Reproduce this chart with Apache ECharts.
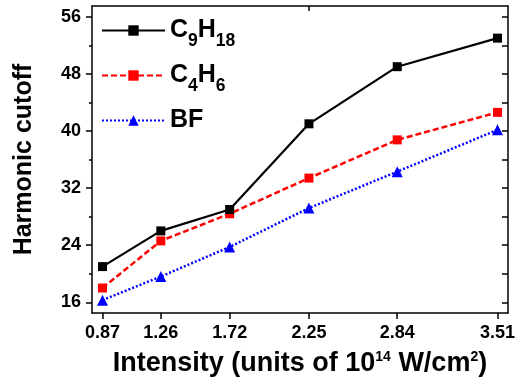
<!DOCTYPE html>
<html><head><meta charset="utf-8">
<script src="https://cdn.jsdelivr.net/npm/echarts@6/dist/echarts.min.js"></script>
<style>html,body{margin:0;padding:0;background:#fff}#c{width:518px;height:383px}</style>
</head><body><div id="c"></div>
<script>
const intensity = [0.87, 1.26, 1.72, 2.25, 2.84, 3.51];
const c9h18 = [21, 26, 29, 41, 49, 53];
const c4h6 = [18, 24.6, 28.4, 33.4, 38.75, 42.6];
const bf = [16.3, 19.6, 23.75, 29.2, 34.3, 40.15];
const yTicks = [16, 24, 32, 40, 48, 56];
const yMinorTicks = [20, 28, 36, 44, 52];
const yAllTicks = [16, 20, 24, 28, 32, 36, 40, 44, 48, 52, 56];
const topTicks = [2.25];
const seriesNames = ['C9H18', 'C4H6', 'BF'];

const FONT = '"Liberation Sans", Arial, Helvetica, sans-serif';
const XMIN = 0.8, XMAX = 3.58, YMIN = 14.5, YMAX = 57.5;
const axisLine = {show: true, lineStyle: {color: '#000', width: 1.5}};
const tickStyle = {color: '#000', width: 1.5};
const pair = ys => intensity.map((x, i) => [x, ys[i]]);

const chart = echarts.init(document.getElementById('c'), null, {renderer: 'canvas'});
const option = {
  animation: false,
  backgroundColor: '#fff',
  grid: {left: 92, right: 6, top: 6, bottom: 70},
  legend: {
    data: seriesNames,
    orient: 'vertical',
    left: 101, top: 18, padding: 0,
    itemWidth: 63, itemHeight: 13, itemGap: 13,
    selectedMode: false,
    formatter: n => n.replace(/(\d+)/g, '{s|$1}') + (/\d/.test(n) ? '' : '{s| }'),
    textStyle: {
      fontFamily: FONT, fontWeight: 'bold', fontSize: 25, color: '#000',
      rich: {
        s: {fontFamily: FONT, fontWeight: 'bold', fontSize: 17.5, color: '#000',
            verticalAlign: 'bottom', padding: [21, 0, 0, 0]}
      }
    }
  },
  xAxis: [{
    type: 'value', position: 'bottom', min: XMIN, max: XMAX,
    axisLine: axisLine,
    axisTick: {show: true, customValues: intensity, length: 6, lineStyle: tickStyle},
    axisLabel: {customValues: intensity, formatter: v => v.toFixed(2), margin: 11,
      fontFamily: FONT, fontWeight: 'bold', fontSize: 18, color: '#000'},
    splitLine: {show: false},
    name: 'Intensity (units of 10{p|14} W/cm{p|2})',
    nameLocation: 'middle', nameGap: 37,
    nameTextStyle: {fontFamily: FONT, fontWeight: 'bold', fontSize: 27, color: '#000',
      rich: {p: {fontFamily: FONT, fontWeight: 'bold', fontSize: 14, color: '#000',
                 verticalAlign: 'top', padding: [0, 0, 6, 0]}}}
  }, {
    type: 'value', position: 'top', min: XMIN, max: XMAX,
    axisLine: axisLine,
    axisTick: {show: true, inside: true, customValues: topTicks, length: 5, lineStyle: tickStyle},
    axisLabel: {show: false},
    splitLine: {show: false}
  }],
  yAxis: [{
    type: 'value', position: 'left', min: YMIN, max: YMAX,
    axisLine: axisLine,
    axisTick: {show: true, customValues: yTicks, length: 6, lineStyle: tickStyle},
    axisLabel: {customValues: yTicks, margin: 11,
      fontFamily: FONT, fontWeight: 'bold', fontSize: 18, color: '#000'},
    splitLine: {show: false},
    name: 'Harmonic cutoff', nameLocation: 'middle', nameGap: 55,
    nameTextStyle: {fontFamily: FONT, fontWeight: 'bold', fontSize: 25, color: '#000'}
  }, {
    type: 'value', position: 'left', min: YMIN, max: YMAX,
    axisLine: {show: false},
    axisTick: {show: true, customValues: yMinorTicks, length: 3, lineStyle: tickStyle},
    axisLabel: {show: false},
    splitLine: {show: false}
  }, {
    type: 'value', position: 'right', min: YMIN, max: YMAX,
    axisLine: axisLine,
    axisTick: {show: true, inside: true, customValues: yAllTicks, length: 6, lineStyle: tickStyle},
    axisLabel: {show: false},
    splitLine: {show: false}
  }],
  series: [{
    name: 'C9H18', type: 'line', data: pair(c9h18), z: 4,
    symbol: 'rect', symbolSize: 9,
    lineStyle: {color: '#000', width: 2.2, type: 'solid'},
    itemStyle: {color: '#000'}
  }, {
    name: 'C4H6', type: 'line', data: pair(c4h6), z: 3,
    symbol: 'rect', symbolSize: 9,
    lineStyle: {color: '#ff0000', width: 2.5, type: [6, 3]},
    itemStyle: {color: '#ff0000'}
  }, {
    name: 'BF', type: 'line', data: pair(bf), z: 2,
    symbol: 'triangle', symbolSize: 11,
    lineStyle: {color: '#0000ff', width: 2.5, type: [2, 2]},
    itemStyle: {color: '#0000ff'}
  }]
};
chart.setOption(option);
</script></body></html>
